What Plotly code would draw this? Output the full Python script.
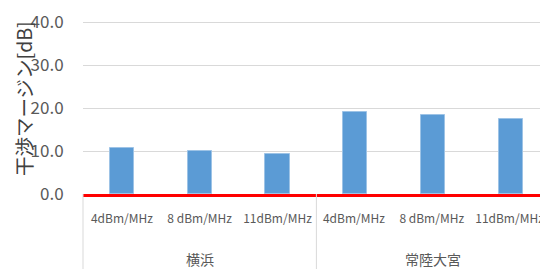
import plotly.graph_objects as go

categories = ["4dBm/MHz", "8 dBm/MHz", "11dBm/MHz", "4dBm/MHz ", "8 dBm/MHz ", "11dBm/MHz "]
groups = ["横浜", "常陸大宮"]
group_sizes = [3, 3]
values = [10.7, 10.1, 9.3, 19.0, 18.4, 17.4]
y_ticks = [0, 10, 20, 30, 40]
y_title = "干渉マージン[dB]"

# page has an 8px body margin; size the figure so it fills the 548x269 window
W, H = 540, 261
ML, MR, MT, MB = 75, 0, 13, 75
PH = H - MT - MB
PW = W - ML - MR
x_range = [-0.5, 5.477]
y_range = [0, 40.25]
span = x_range[1] - x_range[0]

fig = go.Figure()
fig.add_trace(go.Bar(
    x=categories, y=values, width=0.31,
    marker=dict(color="#5b9bd5", line=dict(color="#9dc3e6", width=1)),
    hoverinfo="skip",
))

shapes = []
annotations = []
start = 0
bounds = [0]
for g, n in zip(groups, group_sizes):
    center = start + (n - 1) / 2
    annotations.append(dict(
        x=center, xref="x", y=-65 / PH, yref="paper", text=g, showarrow=False,
        font=dict(family="Noto Sans CJK JP", size=14, color="#595959"),
        xanchor="center", yanchor="middle",
    ))
    start += n
    bounds.append(start)
for b in bounds[:-1]:
    px = (b - 0.5 - x_range[0]) / span
    shapes.append(dict(type="line", xref="paper", yref="paper",
                       x0=px, x1=px, y0=0, y1=-MB / PH,
                       line=dict(color="#d9d9d9", width=1)))

annotations.append(dict(
    x=(15 - ML) / PW, xref="paper", y=(MT + PH - 91) / PH, yref="paper",
    text=y_title, textangle=-90, showarrow=False,
    font=dict(family="Noto Sans CJK JP", size=19.5, color="#404040"),
    xanchor="center", yanchor="middle",
))

fig.update_layout(
    width=W, height=H,
    margin=dict(l=ML, r=MR, t=MT, b=MB),
    plot_bgcolor="white", paper_bgcolor="white",
    showlegend=False,
    shapes=shapes, annotations=annotations,
    bargap=0.0,
)
fig.update_xaxes(
    range=x_range, type="category", automargin=False,
    showgrid=False, showline=True, linecolor="#ff0000", linewidth=3,
    ticks="outside", ticklen=12, tickcolor="rgba(0,0,0,0)",
    tickfont=dict(family="Noto Sans CJK JP", size=12, color="#595959"),
    tickangle=0, zeroline=False, ticklabeloverflow="allow",
)
fig.update_yaxes(
    range=y_range, tickvals=y_ticks, ticktext=[f"{v:.1f}" for v in y_ticks],
    automargin=False, ticklabeloverflow="allow",
    showgrid=True, gridcolor="#d9d9d9", gridwidth=1,
    zeroline=False, showline=False,
    tickfont=dict(family="Noto Sans CJK JP", size=17, color="#595959"),
    ticks="outside", ticklen=15, tickcolor="rgba(0,0,0,0)",
)

fig.write_html("out.html")
